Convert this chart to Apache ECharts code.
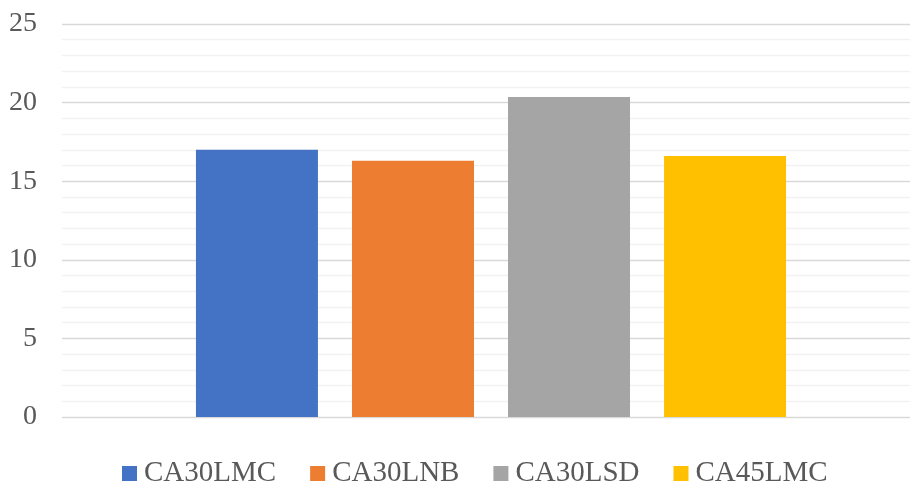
<!DOCTYPE html>
<html>
<head>
<meta charset="utf-8">
<script src="https://cdn.jsdelivr.net/npm/echarts@6/dist/echarts.min.js"></script>
<style>
  html, body { margin: 0; padding: 0; background: #fff; overflow: hidden; width: 910px; height: 484px; }
  #chart { width: 920px; height: 484px; }
</style>
</head>
<body>
<div id="chart"></div>
<script>
// Sample names and their measured values
const seriesNames = ['CA30LMC', 'CA30LNB', 'CA30LSD', 'CA45LMC'];
const seriesValues = [17.0, 16.3, 20.35, 16.6];
const seriesColors = ['#4472C4', '#ED7D31', '#A5A5A5', '#FFC000'];
const categories = [''];
const yTicks = [0, 5, 10, 15, 20, 25];

const FONT = '"Liberation Serif", "Times New Roman", serif';
const chart = echarts.init(document.getElementById('chart'));

const series = seriesNames.map((name, i) => ({
  name: name,
  type: 'bar',
  data: [seriesValues[i]],
  barWidth: 122,
  barGap: '27.9%',
  itemStyle: { color: seriesColors[i] }
}));

chart.setOption({
  animation: false,
  textStyle: { fontFamily: FONT },
  grid: { left: 62, top: 24, right: 0, bottom: 67, containLabel: false },
  legend: {
    data: seriesNames,
    left: 117,
    top: 454,
    icon: 'rect',
    itemWidth: 15,
    itemHeight: 15,
    itemGap: 34,
    textStyle: { fontFamily: FONT, fontSize: 29, color: '#595959', padding: [0, 0, 0, 2] }
  },
  xAxis: {
    type: 'category',
    data: categories,
    axisLine: { show: false },
    axisTick: { show: false },
    axisLabel: { show: false }
  },
  yAxis: {
    type: 'value',
    min: yTicks[0],
    max: yTicks[yTicks.length - 1],
    interval: 5,
    axisLine: { show: false },
    axisTick: { show: false },
    minorTick: { show: false, splitNumber: 5 },
    axisLabel: { fontFamily: FONT, fontSize: 28, color: '#595959', margin: 25 },
    splitLine: { lineStyle: { color: '#d9d9d9', width: 1.3 } },
    minorSplitLine: { show: true, lineStyle: { color: '#f2f2f2', width: 1.3 } }
  },
  series: series
});
</script>
</body>
</html>
